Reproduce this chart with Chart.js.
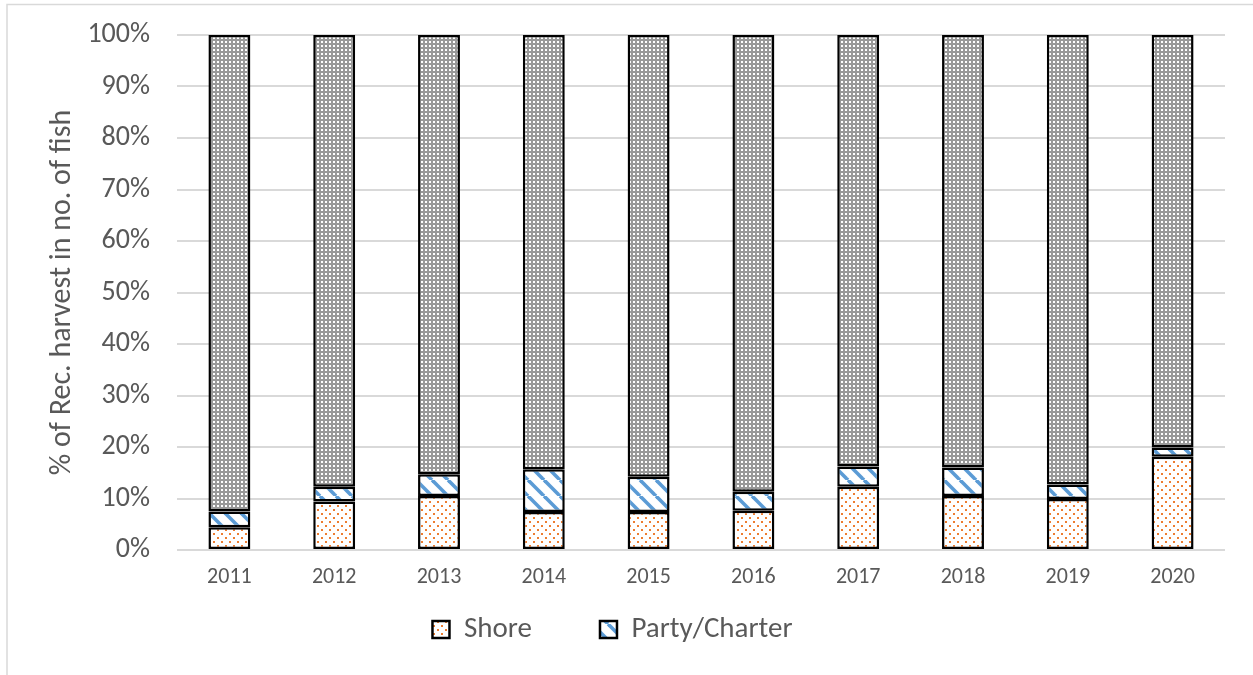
<!DOCTYPE html>
<html>
<head>
<meta charset="utf-8">
<script src="https://cdn.jsdelivr.net/npm/chart.js@4/dist/chart.umd.min.js"></script>
<style>
  html, body { margin: 0; padding: 0; background: #fff; }
  #wrap { position: absolute; left: 0; top: 0; width: 1253px; height: 675px; }
</style>
</head>
<body>
<div id="wrap"><canvas id="harvestChart" width="1253" height="675"></canvas></div>
<script>
// share of recreational harvest (no. of fish) by mode, percent
const years = ['2011', '2012', '2013', '2014', '2015', '2016', '2017', '2018', '2019', '2020'];
const shore = [4.4, 9.4, 10.5, 7.4, 7.4, 7.6, 12.3, 10.5, 9.9, 18.1];
const partyCharter = [3.1, 2.9, 4.2, 8.3, 6.8, 3.7, 3.9, 5.5, 2.8, 1.8];
const privateRental = [92.5, 87.7, 85.3, 84.3, 85.8, 88.7, 83.8, 84.0, 87.3, 80.1];
const yTicks = [0, 10, 20, 30, 40, 50, 60, 70, 80, 90, 100];

const textColor = '#595959';
const gridColor = '#d9d9d9';
const fontFamily = 'Calibri, Carlito, Lato, sans-serif';

// Excel-style fill patterns
function makeTile(size, draw) {
    const c = document.createElement('canvas');
    c.width = size;
    c.height = size;
    const g = c.getContext('2d');
    draw(g, size);
    return document.createElement('canvas').getContext('2d').createPattern(c, 'repeat');
}

const shorePattern = makeTile(8, (g, s) => {
    g.fillStyle = '#fff';
    g.fillRect(0, 0, s, s);
    g.fillStyle = '#ED7D31';
    g.fillRect(1, 1, 2, 2);
    g.fillRect(5, 5, 2, 2);
});

const partyPattern = makeTile(16, (g, s) => {
    g.fillStyle = '#fff';
    g.fillRect(0, 0, s, s);
    g.strokeStyle = '#5B9BD5';
    g.lineWidth = 3.6;
    [-s, 0, s].forEach(off => {
        g.beginPath();
        g.moveTo(off, 0);
        g.lineTo(off + s, s);
        g.stroke();
    });
});

const privatePattern = makeTile(4, (g, s) => {
    g.fillStyle = '#999999';
    g.fillRect(0, 0, s, s);
    g.fillStyle = '#fff';
    g.fillRect(1, 1, 2, 2);
});

// thin frame that the cropped picture shows at top and left
const framePlugin = {
    id: 'frame',
    beforeDraw(chart) {
        const ctx = chart.ctx;
        ctx.save();
        ctx.strokeStyle = gridColor;
        ctx.lineWidth = 1.5;
        ctx.beginPath();
        ctx.moveTo(7, 675);
        ctx.lineTo(7, 4.5);
        ctx.lineTo(1253, 4.5);
        ctx.stroke();
        ctx.restore();
    }
};

const ctx = document.getElementById('harvestChart').getContext('2d');
new Chart(ctx, {
    type: 'bar',
    data: {
        labels: years,
        datasets: [{
            label: 'Shore',
            data: shore,
            backgroundColor: shorePattern,
            borderColor: '#000',
            borderWidth: 2.5,
            borderSkipped: false
        }, {
            label: 'Party/Charter',
            data: partyCharter,
            backgroundColor: partyPattern,
            borderColor: '#000',
            borderWidth: 2.5,
            borderSkipped: false
        }, {
            label: 'Private/Rental',
            data: privateRental,
            backgroundColor: privatePattern,
            borderColor: '#000',
            borderWidth: 2.5,
            borderSkipped: false
        }]
    },
    options: {
        responsive: false,
        animation: false,
        events: [],
        barPercentage: 0.4,
        categoryPercentage: 1,
        layout: {
            padding: { left: 0, top: 35, right: 28, bottom: 21 }
        },
        plugins: {
            tooltip: { enabled: false },
            legend: {
                position: 'bottom',
                labels: {
                    color: textColor,
                    font: { family: fontFamily, size: 29 },
                    boxWidth: 17,
                    boxHeight: 17,
                    padding: 10,
                    generateLabels(chart) {
                        const items = Chart.defaults.plugins.legend.labels.generateLabels(chart)
                            .filter(it => it.datasetIndex < 2);
                        items[0].text = items[0].text + '\u2003\u2003';
                        return items;
                    }
                }
            }
        },
        scales: {
            x: {
                stacked: true,
                grid: { display: false },
                border: { display: false },
                ticks: {
                    color: textColor,
                    font: { family: fontFamily, size: 22 },
                    padding: 6
                },
                afterFit(scale) { scale.height = 55; }
            },
            y: {
                stacked: true,
                min: 0,
                max: 100,
                afterBuildTicks(scale) {
                    scale.ticks = yTicks.map(v => ({ value: v }));
                },
                grid: { color: gridColor, lineWidth: 2, drawTicks: true, tickLength: 27, tickColor: 'rgba(0,0,0,0)' },
                border: { display: false },
                ticks: {
                    color: textColor,
                    font: { family: fontFamily, size: 28 },
                    padding: 0,
                    callback: v => v + '%'
                },
                title: {
                    display: true,
                    text: '% of Rec. harvest in no. of fish',
                    color: textColor,
                    font: { family: fontFamily, size: 30, weight: 'normal' },
                    padding: { top: 44, bottom: 0 }
                },
                afterFit(scale) { scale.width = 177; }
            }
        }
    },
    plugins: [framePlugin]
});
</script>
</body>
</html>
